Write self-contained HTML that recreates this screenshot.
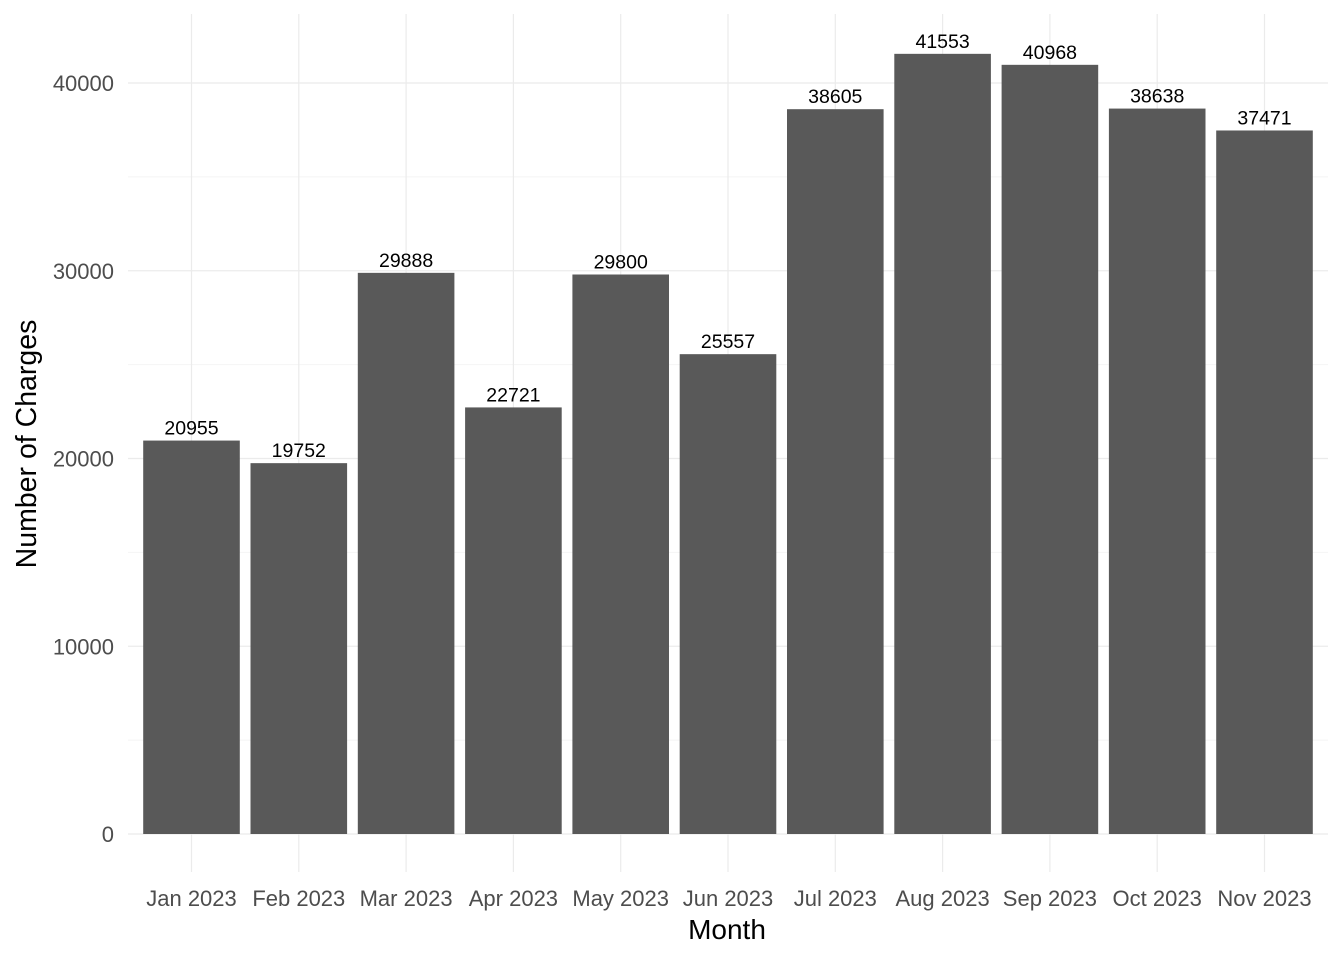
<!DOCTYPE html>
<html><head><meta charset="utf-8"><style>
body{margin:0;background:#fff;}
svg{display:block;font-family:"Liberation Sans",Arial,sans-serif;}
</style></head><body>
<svg id="chart" width="1344" height="960" viewBox="0 0 1344 960">
<g id="grid"></g>
<g id="bars"></g>
<g id="labels"></g>
<g id="yticks"></g>
<g id="xticks"></g>
<text x="727" y="939" text-anchor="middle" font-size="28" fill="#000">Month</text>
<text transform="translate(36,444) rotate(-90)" text-anchor="middle" font-size="28.5" fill="#000">Number of Charges</text>
</svg>
<script>
const categories=["Jan 2023","Feb 2023","Mar 2023","Apr 2023","May 2023","Jun 2023","Jul 2023","Aug 2023","Sep 2023","Oct 2023","Nov 2023"];
const values=[20955,19752,29888,22721,29800,25557,38605,41553,40968,38638,37471];
const yTicks=[0,10000,20000,30000,40000];
const yMinor=[5000,15000,25000,35000];
const NS="http://www.w3.org/2000/svg";
const y=v=>834-v*0.018775;
const x=i=>191.5+i*107.3;
const bw=96.6;
function mk(tag,attrs,parent){const e=document.createElementNS(NS,tag);for(const k in attrs)e.setAttribute(k,attrs[k]);document.getElementById(parent).appendChild(e);return e;}
yMinor.forEach(v=>{const l=mk('line',{x1:128,x2:1328,y1:y(v),y2:y(v),stroke:'#f4f4f4','stroke-width':1},'grid');

});
yTicks.forEach(v=>{const l=mk('line',{x1:128,x2:1328,y1:y(v),y2:y(v),stroke:'#ebebeb','stroke-width':1.2},'grid');


const t=mk('text',{x:114,y:y(v)+8,'text-anchor':'end','font-size':22,fill:'#4d4d4d'},'yticks');t.textContent=v;

});
categories.forEach((c,i)=>{const l=mk('line',{x1:x(i),x2:x(i),y1:14,y2:872,stroke:'#ebebeb','stroke-width':1.2},'grid');


const r=mk('rect',{x:x(i)-bw/2,y:y(values[i]),width:bw,height:834-y(values[i]),fill:'#595959'},'bars');


const t=mk('text',{x:x(i),y:y(values[i])-6,'text-anchor':'middle','font-size':19.5,fill:'#000'},'labels');t.textContent=values[i];


const xt=mk('text',{x:x(i),y:906,'text-anchor':'middle','font-size':22,fill:'#4d4d4d'},'xticks');xt.textContent=c;

});
</script>
</body></html>
